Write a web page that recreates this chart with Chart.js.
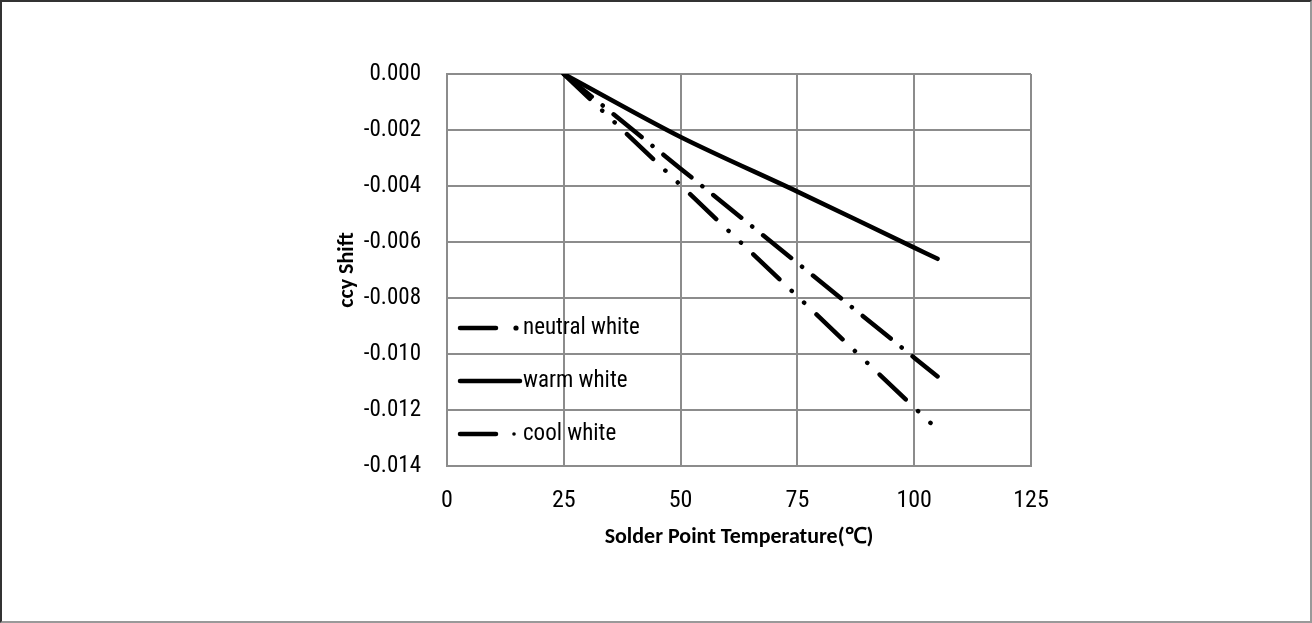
<!DOCTYPE html>
<html><head><meta charset="utf-8">
<script src="https://cdn.jsdelivr.net/npm/chart.js@4"></script>
<style>
html,body{margin:0;padding:0;background:#fff;}
#wrap{position:relative;width:1312px;height:623px;box-sizing:border-box;border-left:2px solid #333;border-top:2px solid #333;border-right:2px solid #999;border-bottom:2px solid #999;overflow:hidden;}
canvas{position:absolute;left:-2px;top:-2px;}
</style></head><body>
<div id="wrap"><canvas id="c" width="1312" height="623"></canvas></div>
<script>
const TICK_FONT = "'Roboto Condensed','Carlito',sans-serif";
const TITLE_FONT = "'Carlito','Calibri',sans-serif";
const xTicks = [0, 25, 50, 75, 100, 125];
const yTicks = [0, -0.002, -0.004, -0.006, -0.008, -0.010, -0.012, -0.014];
const temps = [25, 50, 75, 100, 105];
const neutralWhite = [0, -0.00338, -0.00675, -0.01013, -0.0108];
const warmWhite = [0, -0.00225, -0.0042, -0.0062, -0.0066];
const coolWhite = [0, -0.00397, -0.00794, -0.01191, -0.0127];
const seriesNames = ['neutral white', 'warm white', 'cool white'];

const toXY = (arr) => temps.map((t, i) => ({x: t, y: arr[i]}));

const legendPlugin = {
  id: 'inLegend',
  afterDatasetsDraw(chart) {
    const ctx = chart.ctx, a = chart.chartArea;
    const rows = [a.top + 254, a.top + 307, a.top + 360];
    const x0 = a.left + 13;
    ctx.save();
    ctx.strokeStyle = '#000';
    ctx.fillStyle = '#000';
    ctx.lineCap = 'round';
    ctx.lineWidth = 4.5;
    chart.data.datasets.forEach((ds, i) => {
      const y = rows[i];
      ctx.beginPath();
      if (i === 1) { ctx.moveTo(x0, y); ctx.lineTo(x0 + 60, y); ctx.stroke(); }
      else {
        ctx.moveTo(x0, y); ctx.lineTo(x0 + 36, y); ctx.stroke();
        ctx.beginPath();
        ctx.arc(x0 + (i === 0 ? 56 : 54), y, i === 0 ? 2.6 : 1.8, 0, Math.PI * 2);
        ctx.fill();
      }
      ctx.font = '23px ' + TICK_FONT;
      ctx.textBaseline = 'middle';
      ctx.textAlign = 'left';
      ctx.fillText(ds.label, x0 + 63, y);
    });
    ctx.restore();
  }
};

new Chart(document.getElementById('c'), {
  type: 'line',
  data: {
    datasets: [
      {label: seriesNames[0], data: toXY(neutralWhite), borderColor: '#000', borderWidth: 4.5, borderDash: [36, 14, 0.1, 14], borderCapStyle: 'round', pointRadius: 0, tension: 0, fill: false},
      {label: seriesNames[1], data: toXY(warmWhite), borderColor: '#000', borderWidth: 4.5, borderCapStyle: 'round', pointRadius: 0, tension: 0.3, fill: false},
      {label: seriesNames[2], data: toXY(coolWhite), borderColor: '#000', borderWidth: 4.5, borderDash: [36, 17, 0.1, 17, 0.1, 17], borderCapStyle: 'round', pointRadius: 0, tension: 0, fill: false}
    ]
  },
  options: {
    responsive: false,
    animation: false,
    devicePixelRatio: 1,
    layout: {padding: {left: 334, right: 281, top: 74, bottom: 57}},
    plugins: {legend: {display: false}, tooltip: {enabled: false}},
    scales: {
      x: {
        type: 'linear', min: 0, max: 125,
        afterBuildTicks: (s) => { s.ticks = xTicks.map(v => ({value: v})); },
        afterFit: (s) => { s.height = 100; },
        grid: {color: '#8c8c8c', lineWidth: 2, drawTicks: false},
        border: {color: '#8c8c8c', width: 2},
        ticks: {padding: 21, color: '#000', font: {family: TICK_FONT, size: 24}},
        title: {display: true, text: 'Solder Point Temperature(℃)', color: '#000', font: {family: TITLE_FONT, size: 22, weight: 'bold'}, padding: {top: 0, bottom: 15}}
      },
      y: {
        type: 'linear', min: -0.014, max: 0,
        afterBuildTicks: (s) => { s.ticks = yTicks.map(v => ({value: v})); },
        afterFit: (s) => { s.width = 113; },
        grid: {color: '#8c8c8c', lineWidth: 2, drawTicks: false},
        border: {color: '#8c8c8c', width: 2},
        ticks: {padding: 26, color: '#000', font: {family: TICK_FONT, size: 23}, callback: (v) => v.toFixed(3)},
        title: {display: true, text: 'ccy Shift', color: '#000', font: {family: TITLE_FONT, size: 22, weight: 'bold'}, padding: {top: 0, bottom: 0}}
      }
    }
  },
  plugins: [legendPlugin]
});
</script>
</body></html>
